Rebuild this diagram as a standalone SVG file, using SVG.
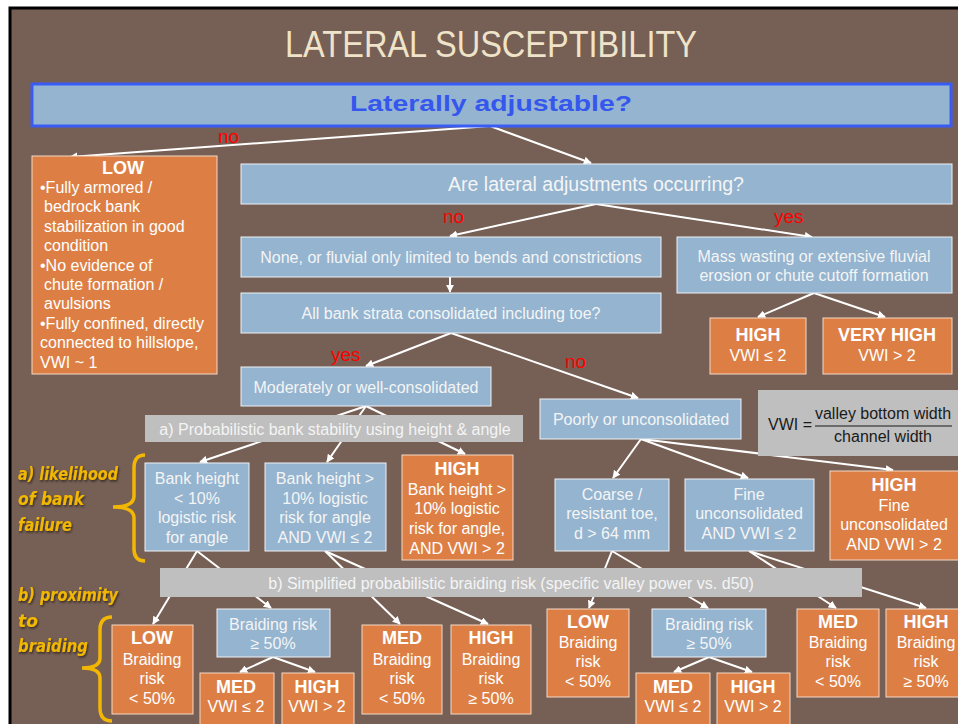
<svg xmlns="http://www.w3.org/2000/svg" width="958" height="724" viewBox="0 0 958 724">
<defs>
<marker id="ah" viewBox="0 0 10 10" refX="9" refY="5" markerWidth="8" markerHeight="8" markerUnits="userSpaceOnUse" orient="auto">
<path d="M0,0 L10,5 L0,10 z" fill="#ffffff"/>
</marker>
<filter id="sh" x="-10%" y="-10%" width="130%" height="130%">
<feDropShadow dx="1" dy="1.5" stdDeviation="0.8" flood-color="#000" flood-opacity="0.6"/>
</filter>
</defs>
<style>
.b{fill:#94b4d0;stroke:#eef2f6;stroke-width:1}
.o{fill:#dd7f45;stroke:#f3d9c6;stroke-width:1}
.g{fill:#bfbfbf;stroke:none}
text{font-family:"Liberation Sans",Arial,sans-serif}
.t{fill:#f4f4f4;font-size:16px;text-anchor:middle}
.tl{fill:#ffffff;font-size:16px}
.w{fill:#ffffff;font-size:16px;text-anchor:middle}
.h{fill:#ffffff;font-size:18px;font-weight:bold;text-anchor:middle}
.r{fill:#ff0000;font-size:19px}
.lab{fill:#f2b705;font-family:"DejaVu Sans",sans-serif;font-size:17px;font-style:italic;font-weight:bold;filter:url(#sh)}
.c{stroke:#ffffff;stroke-width:2;fill:none;marker-end:url(#ah)}
.br{stroke:#f2b705;stroke-width:3.5;fill:none}
</style>
<rect x="0" y="0" width="958" height="724" fill="#ffffff"/>
<rect x="10" y="8" width="960" height="730" fill="#765f54" stroke="#000" stroke-width="3"/>
<text x="491" y="57" text-anchor="middle" fill="#efe3c9" font-family="Lato, 'Open Sans', sans-serif" font-weight="300" font-size="37" textLength="412" lengthAdjust="spacingAndGlyphs">LATERAL SUSCEPTIBILITY</text>

<g id="connectors">
<line class="c" x1="490" y1="126" x2="70" y2="157"/>
<line class="c" x1="490" y1="126" x2="591" y2="163"/>
<line class="c" x1="596" y1="204" x2="450" y2="236"/>
<line class="c" x1="596" y1="204" x2="812" y2="237"/>
<line class="c" x1="450" y1="277" x2="450" y2="292"/>
<line class="c" x1="814" y1="293" x2="758" y2="317"/>
<line class="c" x1="814" y1="293" x2="885" y2="317"/>
<line class="c" x1="451" y1="333" x2="366" y2="366"/>
<line class="c" x1="451" y1="333" x2="638" y2="398"/>
<line class="c" x1="366" y1="406" x2="200" y2="462"/>
<line class="c" x1="366" y1="406" x2="327" y2="462"/>
<line class="c" x1="366" y1="406" x2="465" y2="454"/>
<line class="c" x1="641" y1="439" x2="613" y2="478"/>
<line class="c" x1="641" y1="439" x2="748" y2="478"/>
<line class="c" x1="641" y1="439" x2="893" y2="470"/>
<line class="c" x1="197" y1="551" x2="153" y2="624"/>
<line class="c" x1="197" y1="551" x2="271" y2="608"/>
<line class="c" x1="325" y1="551" x2="400" y2="624"/>
<line class="c" x1="325" y1="551" x2="488" y2="624"/>
<line class="c" x1="612" y1="551" x2="589" y2="608"/>
<line class="c" x1="612" y1="551" x2="708" y2="608"/>
<line class="c" x1="749" y1="551" x2="836" y2="608"/>
<line class="c" x1="749" y1="551" x2="926" y2="608"/>
<line class="c" x1="273" y1="657" x2="240" y2="672"/>
<line class="c" x1="273" y1="657" x2="315" y2="672"/>
<line class="c" x1="709" y1="657" x2="674" y2="672"/>
<line class="c" x1="709" y1="657" x2="752" y2="672"/>
</g>

<g id="edge-labels">
<text class="r" x="218" y="143">no</text>
<text class="r" x="443" y="223">no</text>
<text class="r" x="774" y="223">yes</text>
<text class="r" x="331" y="361">yes</text>
<text class="r" x="565" y="368">no</text>
</g>

<g id="n-root">
<rect x="32" y="84" width="919" height="42" fill="#94b4d0" stroke="#3a5cf6" stroke-width="3"/>
<text x="491" y="111" text-anchor="middle" fill="#3557ee" font-size="22" font-weight="bold" textLength="282" lengthAdjust="spacingAndGlyphs">Laterally adjustable?</text>
</g>

<g id="n-low">
<rect class="o" x="32" y="156" width="185" height="218"/>
<text class="h" x="123" y="174">LOW</text>
<text class="tl" x="40" y="193">•Fully armored /</text>
<text class="tl" x="44" y="212">bedrock bank</text>
<text class="tl" x="44" y="232">stabilization  in good</text>
<text class="tl" x="44" y="251">condition</text>
<text class="tl" x="40" y="271">•No evidence of</text>
<text class="tl" x="44" y="290">chute formation /</text>
<text class="tl" x="44" y="309">avulsions</text>
<text class="tl" x="40" y="329">•Fully confined, directly</text>
<text class="tl" x="40" y="348">connected to hillslope,</text>
<text class="tl" x="40" y="368">VWI ~ 1</text>
</g>

<g id="n-occurring">
<rect class="b" x="241" y="164" width="711" height="40"/>
<text class="t" x="596" y="191" style="font-size:19.5px">Are lateral adjustments occurring?</text>
</g>

<g id="n-none">
<rect class="b" x="241" y="237" width="420" height="40"/>
<text class="t" x="451" y="263">None, or fluvial only limited to bends and constrictions</text>
</g>

<g id="n-mass">
<rect class="b" x="677" y="237" width="275" height="56"/>
<text class="t" x="814" y="262">Mass wasting or extensive fluvial</text>
<text class="t" x="814" y="281">erosion or chute cutoff formation</text>
</g>

<g id="n-high1">
<rect class="o" x="710" y="318" width="96" height="56"/>
<text class="h" x="758" y="341">HIGH</text>
<text class="w" x="758" y="361">VWI ≤ 2</text>
</g>

<g id="n-veryhigh">
<rect class="o" x="823" y="318" width="129" height="56"/>
<text class="h" x="887" y="341">VERY HIGH</text>
<text class="w" x="887" y="361">VWI &gt; 2</text>
</g>

<g id="n-strata">
<rect class="b" x="241" y="293" width="420" height="40"/>
<text class="t" x="451" y="319">All bank strata consolidated including toe?</text>
</g>

<g id="n-moderate">
<rect class="b" x="241" y="367" width="250" height="39"/>
<text class="t" x="366" y="393">Moderately or well-consolidated</text>
</g>

<g id="n-poorly">
<rect class="b" x="540" y="399" width="201" height="40"/>
<text class="t" x="641" y="425">Poorly or unconsolidated</text>
</g>

<g id="n-vwi">
<rect class="g" x="758" y="390" width="200" height="66"/>
<text x="768" y="430" fill="#1a1a1a" font-size="16">VWI =</text>
<text x="883" y="419" fill="#1a1a1a" font-size="16" text-anchor="middle">valley bottom width</text>
<line x1="815" y1="426" x2="952" y2="426" stroke="#1a1a1a" stroke-width="1.2"/>
<text x="883" y="442" fill="#1a1a1a" font-size="16" text-anchor="middle">channel width</text>
</g>

<g id="n-prob-a">
<rect class="g" x="145" y="415" width="378" height="27"/>
<text class="t" x="335" y="435">a) Probabilistic bank stability using height &amp; angle</text>
</g>

<g id="n-bh1">
<rect class="b" x="145" y="463" width="104" height="88"/>
<text class="t" x="197" y="484">Bank height</text>
<text class="t" x="197" y="504">&lt; 10%</text>
<text class="t" x="197" y="523">logistic risk</text>
<text class="t" x="197" y="543">for angle</text>
</g>

<g id="n-bh2">
<rect class="b" x="265" y="463" width="121" height="88"/>
<text class="t" x="325" y="484">Bank height &gt;</text>
<text class="t" x="325" y="504">10% logistic</text>
<text class="t" x="325" y="523">risk for angle</text>
<text class="t" x="325" y="543">AND VWI ≤ 2</text>
</g>

<g id="n-bh3">
<rect class="o" x="402" y="455" width="111" height="105"/>
<text class="h" x="457" y="475">HIGH</text>
<text class="w" x="457" y="495">Bank height &gt;</text>
<text class="w" x="457" y="514">10% logistic</text>
<text class="w" x="457" y="534">risk for angle,</text>
<text class="w" x="457" y="554">AND VWI &gt; 2</text>
</g>

<g id="n-coarse">
<rect class="b" x="555" y="479" width="114" height="72"/>
<text class="t" x="612" y="500">Coarse /</text>
<text class="t" x="612" y="519">resistant toe,</text>
<text class="t" x="612" y="539">d &gt; 64 mm</text>
</g>

<g id="n-fine">
<rect class="b" x="685" y="479" width="129" height="72"/>
<text class="t" x="749" y="500">Fine</text>
<text class="t" x="749" y="519">unconsolidated</text>
<text class="t" x="749" y="539">AND VWI ≤ 2</text>
</g>

<g id="n-finehigh">
<rect class="o" x="830" y="471" width="132" height="89"/>
<text class="h" x="894" y="491">HIGH</text>
<text class="w" x="894" y="511">Fine</text>
<text class="w" x="894" y="530">unconsolidated</text>
<text class="w" x="894" y="550">AND VWI &gt; 2</text>
</g>

<g id="n-prob-b">
<rect class="g" x="160" y="568" width="702" height="29"/>
<text class="t" x="511" y="589">b) Simplified probabilistic braiding risk (specific valley power vs. d50)</text>
</g>

<g id="n-low2">
<rect class="o" x="112" y="625" width="81" height="89"/>
<text class="h" x="152" y="644">LOW</text>
<text class="w" x="152" y="665">Braiding</text>
<text class="w" x="152" y="684">risk</text>
<text class="w" x="152" y="704">&lt; 50%</text>
</g>

<g id="n-br1">
<rect class="b" x="217" y="609" width="113" height="48"/>
<text class="t" x="273" y="630">Braiding risk</text>
<text class="t" x="273" y="649">≥ 50%</text>
</g>

<g id="n-med1">
<rect class="o" x="200" y="673" width="74" height="55"/>
<text class="h" x="236" y="693">MED</text>
<text class="w" x="236" y="712">VWI ≤ 2</text>
</g>

<g id="n-high2">
<rect class="o" x="282" y="673" width="72" height="55"/>
<text class="h" x="317" y="693">HIGH</text>
<text class="w" x="317" y="712">VWI &gt; 2</text>
</g>

<g id="n-med2">
<rect class="o" x="362" y="625" width="80" height="89"/>
<text class="h" x="402" y="644">MED</text>
<text class="w" x="402" y="665">Braiding</text>
<text class="w" x="402" y="684">risk</text>
<text class="w" x="402" y="704">&lt; 50%</text>
</g>

<g id="n-high3">
<rect class="o" x="451" y="625" width="80" height="89"/>
<text class="h" x="491" y="644">HIGH</text>
<text class="w" x="491" y="665">Braiding</text>
<text class="w" x="491" y="684">risk</text>
<text class="w" x="491" y="704">≥ 50%</text>
</g>

<g id="n-low3">
<rect class="o" x="547" y="609" width="82" height="88"/>
<text class="h" x="588" y="628">LOW</text>
<text class="w" x="588" y="648">Braiding</text>
<text class="w" x="588" y="667">risk</text>
<text class="w" x="588" y="687">&lt; 50%</text>
</g>

<g id="n-br2">
<rect class="b" x="652" y="609" width="114" height="48"/>
<text class="t" x="709" y="630">Braiding risk</text>
<text class="t" x="709" y="649">≥ 50%</text>
</g>

<g id="n-med3">
<rect class="o" x="636" y="673" width="74" height="55"/>
<text class="h" x="673" y="693">MED</text>
<text class="w" x="673" y="712">VWI ≤ 2</text>
</g>

<g id="n-high4">
<rect class="o" x="717" y="673" width="73" height="55"/>
<text class="h" x="753" y="693">HIGH</text>
<text class="w" x="753" y="712">VWI &gt; 2</text>
</g>

<g id="n-med4">
<rect class="o" x="797" y="609" width="82" height="88"/>
<text class="h" x="838" y="628">MED</text>
<text class="w" x="838" y="648">Braiding</text>
<text class="w" x="838" y="667">risk</text>
<text class="w" x="838" y="687">&lt; 50%</text>
</g>

<g id="n-high5">
<rect class="o" x="886" y="609" width="80" height="88"/>
<text class="h" x="926" y="628">HIGH</text>
<text class="w" x="926" y="648">Braiding</text>
<text class="w" x="926" y="667">risk</text>
<text class="w" x="926" y="687">≥ 50%</text>
</g>

<g id="side-a">
<text class="lab" x="18" y="480" textLength="100" lengthAdjust="spacingAndGlyphs">a) likelihood</text>
<text class="lab" x="18" y="505" textLength="66" lengthAdjust="spacingAndGlyphs">of bank</text>
<text class="lab" x="18" y="531" textLength="54" lengthAdjust="spacingAndGlyphs">failure</text>
<path class="br" d="M145,455 Q134,455 134,468 L134,496 Q134,507 113,507 Q134,507 134,518 L134,549 Q134,561 145,561"/>
</g>

<g id="side-b">
<text class="lab" x="18" y="601" textLength="100" lengthAdjust="spacingAndGlyphs">b) proximity</text>
<text class="lab" x="18" y="627">to</text>
<text class="lab" x="18" y="652" textLength="70" lengthAdjust="spacingAndGlyphs">braiding</text>
<path class="br" d="M112,617 Q100,617 100,630 L100,658 Q100,668 82,668 Q100,668 100,678 L100,708 Q100,721 112,721"/>
</g>
</svg>
